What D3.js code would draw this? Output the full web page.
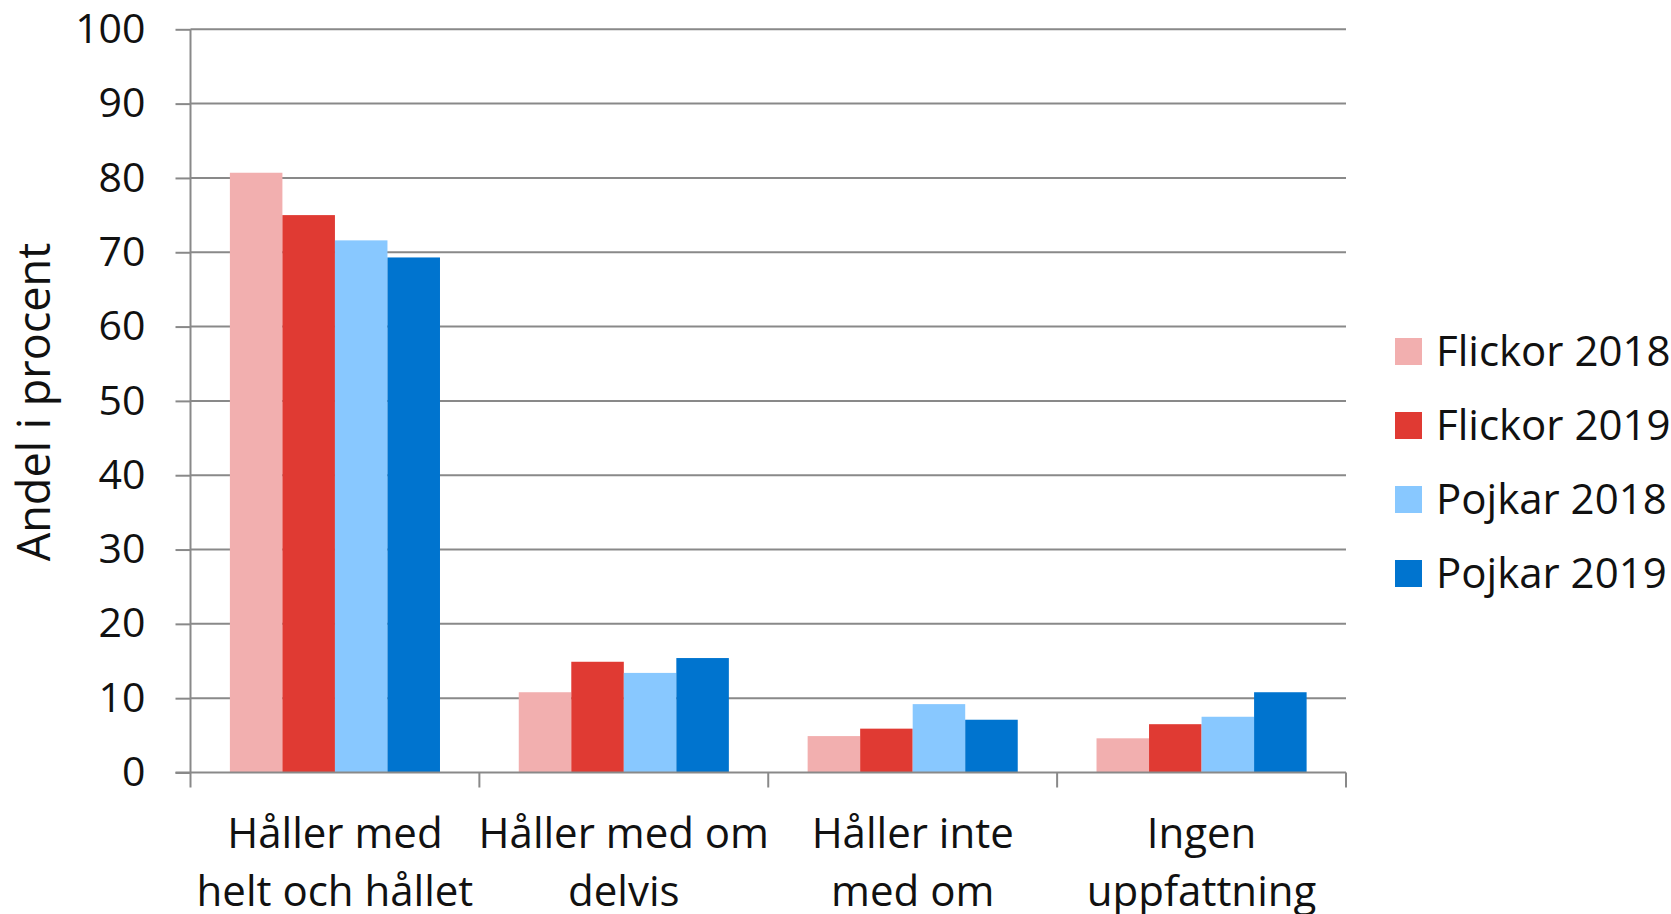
<!DOCTYPE html>
<html>
<head>
<meta charset="utf-8">
<script src="https://cdn.jsdelivr.net/npm/d3@7"></script>
<style>
body { margin: 0; background: #fff; }
svg text { font-family: "Segoe UI", "Open Sans", sans-serif; fill: #111; }
</style>
</head>
<body>
<svg width="1671" height="914"></svg>
<script>
var categories = [
  ["Håller med", "helt och hållet"],
  ["Håller med om", "delvis"],
  ["Håller inte", "med om"],
  ["Ingen", "uppfattning"]
];
var seriesNames = ["Flickor 2018", "Flickor 2019", "Pojkar 2018", "Pojkar 2019"];
var seriesColors = ["#f2afaf", "#e03a33", "#88c8ff", "#0074cf"];
var flickor2018 = [80.7, 10.8, 4.9, 4.6];
var flickor2019 = [75.0, 14.9, 5.9, 6.5];
var pojkar2018 = [71.6, 13.4, 9.2, 7.5];
var pojkar2019 = [69.3, 15.4, 7.1, 10.8];
var yTicks = [0, 10, 20, 30, 40, 50, 60, 70, 80, 90, 100];

var values = [flickor2018, flickor2019, pojkar2018, pojkar2019];

var svg = d3.select("svg"),
plotLeft = 190.5, plotRight = 1346, plotTop = 29.3, plotBottom = 772.5;

var x0 = d3.scaleBand()
  .domain(d3.range(categories.length))
  .range([plotLeft, plotRight]);

// excel style gap width 150%
var bw = x0.bandwidth(),
gap = bw * 1.5 / 5.5;
var x1 = d3.scaleBand()
  .domain(d3.range(seriesNames.length))
  .range([gap / 2, bw - gap / 2]);

var y = d3.scaleLinear().domain([0, 100]).range([plotBottom, plotTop]);

// gridlines + y ticks
var yAxis = svg.append("g")
  .attr("transform", "translate(" + plotLeft + ",0)")
  .call(d3.axisLeft(y).tickValues(yTicks).tickSize(15).tickPadding(30));
yAxis.select(".domain").remove();
yAxis.selectAll(".tick line").attr("stroke", "#898989").attr("stroke-width", 2);
yAxis.selectAll(".tick text").attr("font-size", 41).attr("fill", "#111")
  .attr("font-family", "'Segoe UI', 'Open Sans', sans-serif");

svg.append("g").selectAll("line")
  .data(yTicks.filter(function(d) { return d > 0; }))
  .enter().append("line")
  .attr("x1", plotLeft).attr("x2", plotRight)
  .attr("y1", function(d) { return y(d); })
  .attr("y2", function(d) { return y(d); })
  .attr("stroke", "#898989").attr("stroke-width", 2);

// bars
values.forEach(function(vals, s) {
  svg.append("g").selectAll("rect")
    .data(vals)
    .enter().append("rect")
    .attr("x", function(d, i) { return x0(i) + x1(s); })
    .attr("width", x1.bandwidth())
    .attr("y", function(d) { return y(d); })
    .attr("height", function(d) { return y(0) - y(d); })
    .attr("fill", seriesColors[s]);
});

// axes lines
svg.append("line")
  .attr("x1", plotLeft).attr("x2", plotLeft).attr("y1", plotTop).attr("y2", plotBottom)
  .attr("stroke", "#898989").attr("stroke-width", 2);

svg.append("line")
  .attr("x1", plotLeft - 15).attr("x2", plotRight).attr("y1", plotBottom).attr("y2", plotBottom)
  .attr("stroke", "#898989").attr("stroke-width", 2);

var edges = d3.range(categories.length + 1).map(function(i) {
  return i < categories.length ? x0(i) : plotRight;
});
svg.append("g").selectAll("line")
  .data(edges)
  .enter().append("line")
  .attr("x1", function(d) { return d; }).attr("x2", function(d) { return d; })
  .attr("y1", plotBottom).attr("y2", plotBottom + 15)
  .attr("stroke", "#898989").attr("stroke-width", 2);

// category labels
var catG = svg.append("g");
categories.forEach(function(lines, i) {
  lines.forEach(function(t, j) {
    catG.append("text")
      .attr("x", x0(i) + bw / 2)
      .attr("y", 848 + j * 58)
      .attr("text-anchor", "middle")
      .attr("font-size", 42)
      .text(t);
  });
});

// y title
svg.append("text")
  .attr("transform", "translate(50,402) rotate(-90)")
  .attr("text-anchor", "middle")
  .attr("font-size", 45)
  .text("Andel i procent");

// legend
var leg = svg.append("g").selectAll("g")
  .data(seriesNames)
  .enter().append("g")
  .attr("transform", function(d, i) { return "translate(1395," + (338 + i * 74) + ")"; });
leg.append("rect")
  .attr("width", 27).attr("height", 27)
  .attr("fill", function(d, i) { return seriesColors[i]; });
leg.append("text")
  .attr("x", 41).attr("y", 28)
  .attr("font-size", 42)
  .text(function(d) { return d; });
</script>
</body>
</html>
